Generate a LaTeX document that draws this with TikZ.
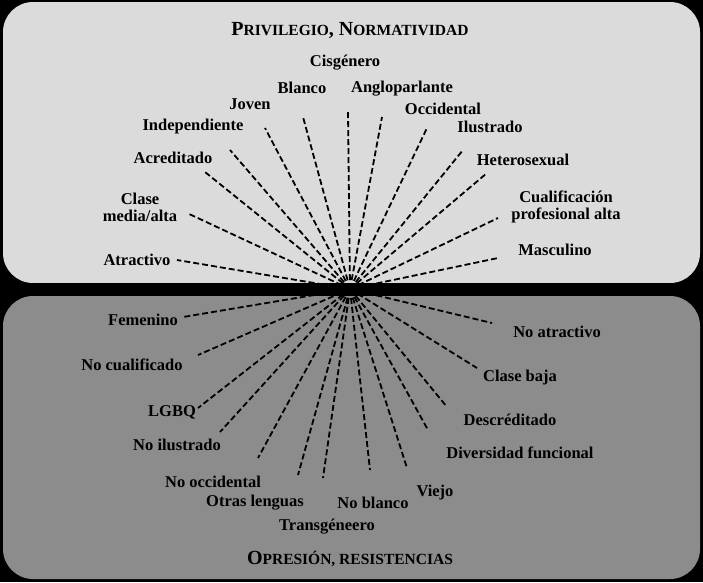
\documentclass[tikz,border=0pt]{standalone}
\usepackage{fontspec}
\setmainfont{Liberation Serif}
\definecolor{botgray}{RGB}{140,140,140}
\begin{document}
\begin{tikzpicture}[x=1pt,y=-1pt,
  lbl/.style={font=\fontsize{16.5}{17}\selectfont\bfseries,align=center,inner sep=0pt},
  ttl/.style={font=\fontsize{20}{21}\selectfont\bfseries,inner sep=0pt},
  ray/.style={line width=1.8pt,dash pattern=on 6pt off 3pt,black}]
\fill[black] (0,0) rectangle (703,582);
\useasboundingbox (0,0) rectangle (703,582);
\fill[gray!28, rounded corners=30pt] (3,2) rectangle (700,283);
\fill[botgray, rounded corners=30pt] (3,296) rectangle (700,579);
\coordinate (c) at (350,289);
\newcommand{\smc}[1]{{\fontsize{15.5}{16}\selectfont #1}}
\node[ttl] (t1) at (350,30) {P\smc{RIVILEGIO}, N\smc{ORMATIVIDAD}};
\node[ttl] (t2) at (350,559) {O\smc{PRESIÓN, RESISTENCIAS}};
\foreach \n/\t/\lx/\ly/\ex/\ey in {
 a1/Cisgénero/345/63/348/112,
 a2/Blanco/302/88/303/117,
 a3/Angloparlante/402/89/382/117,
 a4/Joven/250/104/265/128,
 a5/Occidental/443/109/427/128,
 a6/Independiente/193/127/230/150,
 a7/Ilustrado/490/127/463/150,
 a8/Acreditado/173/158/205/172,
 a9/Heterosexual/523/160/487/173,
 a10/{Clase\\media/alta}/140/207/187/213,
 a11/{Cualificación\\profesional alta}/566/207/498/218,
 a12/Atractivo/137/260/177/260,
 a13/Masculino/555/250/498/258,
 b1/Femenino/143/320/183/317,
 b2/No cualificado/132/365/198/355,
 b3/LGBQ/172/412/198/408,
 b4/No ilustrado/177/445/220/432,
 b5/No occidental/213/482/258/458,
 b6/Otras lenguas/255/503/298/475,
 b7/Transgéneero/327/527/323/478,
 b8/No blanco/373/503/370/470,
 b9/Viejo/435/493/407/468,
 b10/Diversidad funcional/520/453/428/430,
 b11/Descréditado/510/420/447/407,
 b12/Clase baja/520/378/477/368,
 b13/No atractivo/557/332/492/323}{
  \node[lbl] (\n) at (\lx,\ly) {\t};
  \coordinate (e\n) at (\ex,\ey);
  \draw[ray] (c) -- (e\n);
}
\fill[black] (3,283) rectangle (700,296);
\end{tikzpicture}
\end{document}
